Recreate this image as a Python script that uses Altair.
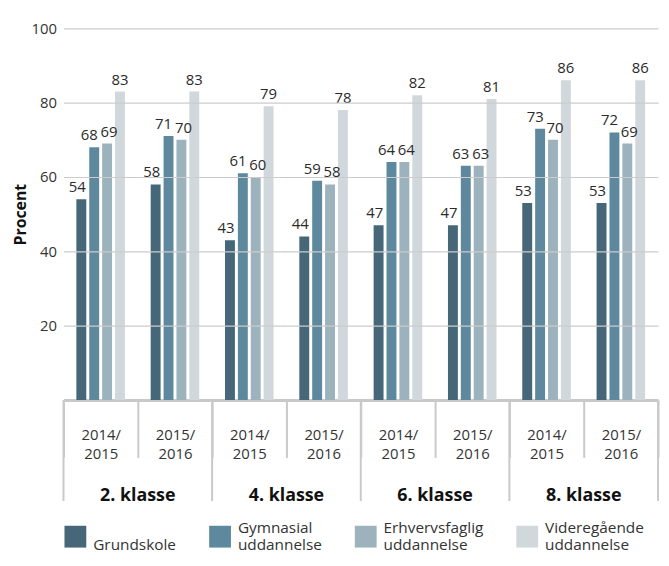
import altair as alt
import pandas as pd

classes = ["2. klasse", "4. klasse", "6. klasse", "8. klasse"]
years = ["2014/2015", "2015/2016"]
series = ["Grundskole", "Gymnasial uddannelse", "Erhvervsfaglig uddannelse", "Videregående uddannelse"]
colors = ["#466778", "#5d889e", "#9cb3bd", "#d0d8dc"]

grundskole = [54, 58, 43, 44, 47, 47, 53, 53]
gymnasial = [68, 71, 61, 59, 64, 63, 73, 72]
erhverv = [69, 70, 60, 58, 64, 63, 70, 69]
videregaaende = [83, 83, 79, 78, 82, 81, 86, 86]

# small horizontal nudges of the value labels, as in the original layout
label_nudge = [-4, -5, 2, 0]

FONT = "Open Sans"

keys = [f"{c}|{y}" for c in classes for y in years]
rows = []
for s, vals in zip(series, [grundskole, gymnasial, erhverv, videregaaende]):
    for k, v in zip(keys, vals):
        rows.append({"key": k, "serie": s, "value": v})
df = pd.DataFrame(rows)

x_scale = alt.Scale(domain=keys, paddingInner=0, paddingOuter=0)
off_scale = alt.Scale(domain=series, paddingInner=3 / 13, paddingOuter=1.0)
y_scale = alt.Scale(domain=[0, 100])

label_expr = ("isValid(datum.value) ? [split(split(datum.value,'|')[1],'/')[0] + '/', "
              "split(split(datum.value,'|')[1],'/')[1]] : ''")

x_enc = alt.X("key:N", scale=x_scale, sort=keys, title=None,
              axis=alt.Axis(labelExpr=label_expr, labelAngle=0, labelFont=FONT,
                            labelFontSize=15, labelColor="#333333", labelLineHeight=19,
                            labelPadding=-30, tickBand="extent", tickSize=58,
                            tickColor="#c9c9c9", tickWidth=2, domainColor="#c9c9c9",
                            domainWidth=3, grid=False))

bars = alt.Chart(df).mark_bar().encode(
    x=x_enc,
    xOffset=alt.XOffset("serie:N", scale=off_scale, sort=series),
    y=alt.Y("value:Q", scale=y_scale, title="Procent",
            axis=alt.Axis(values=[20, 40, 60, 80, 100], domain=False, ticks=False,
                          labelFont=FONT, labelFontSize=15, labelColor="#333333",
                          labelPadding=7, gridColor="#cccccc", gridWidth=1.2,
                          titleFont=FONT, titleFontSize=16, titleFontWeight="bold",
                          titleColor="#111111", titlePadding=3, zindex=1)),
    color=alt.Color("serie:N", scale=alt.Scale(domain=series, range=colors), sort=series,
                    legend=alt.Legend(title=None, orient="none", legendX=1, legendY=502,
                                      direction="horizontal", columns=4, columnPadding=33,
                                      symbolType="square", symbolSize=484,
                                      symbolStrokeWidth=0, symbolOpacity=1,
                                      labelFont=FONT, labelFontSize=15.5,
                                      labelColor="#333333", labelOffset=7,
                                      labelBaseline="line-bottom",
                                      labelExpr="indexof(datum.label, ' ') < 0 ? [' ', datum.label] : split(datum.label, ' ')",
                                      labelLimit=300)),
)

label_layers = []
for s, nudge in zip(series, label_nudge):
    label_layers.append(
        alt.Chart(df).transform_filter(alt.datum.serie == s).mark_text(
            baseline="bottom", dy=-4, dx=nudge, font=FONT, fontSize=15, color="#2b2b2b"
        ).encode(
            x=alt.X("key:N", scale=x_scale, sort=keys),
            xOffset=alt.XOffset("serie:N", scale=off_scale, sort=series),
            y=alt.Y("value:Q", scale=y_scale),
            text=alt.Text("value:Q"),
        )
    )

major_df = pd.DataFrame({"key": [f"{c}|{years[0]}" for c in classes]})
end_df = pd.DataFrame({"key": [f"{classes[-1]}|{years[1]}"]})
class_df = pd.DataFrame({"key": [f"{c}|{years[1]}" for c in classes], "klasse": classes})

major = alt.Chart(major_df).mark_rule(color="#c9c9c9", strokeWidth=2).encode(
    x=alt.X("key:N", scale=x_scale, sort=keys, bandPosition=0),
    y=alt.value(375), y2=alt.value(477),
)
end_rule = alt.Chart(end_df).mark_rule(color="#c9c9c9", strokeWidth=2).encode(
    x=alt.X("key:N", scale=x_scale, sort=keys, bandPosition=1),
    y=alt.value(375), y2=alt.value(477),
)
class_text = alt.Chart(class_df).mark_text(font=FONT, fontSize=18, fontWeight="bold",
                                           color="#111111", baseline="middle").encode(
    x=alt.X("key:N", scale=x_scale, sort=keys, bandPosition=0),
    y=alt.value(472),
    text="klasse:N",
)

chart = alt.layer(bars, *label_layers, major, end_rule, class_text).properties(
    width=600, height=375,
    autosize=alt.AutoSizeParams(type="none"),
    padding={"left": 56, "top": 18, "right": 3, "bottom": 157},
).configure_view(stroke=None)

chart.save("out.html", embed_options={"renderer": "svg", "actions": False})
